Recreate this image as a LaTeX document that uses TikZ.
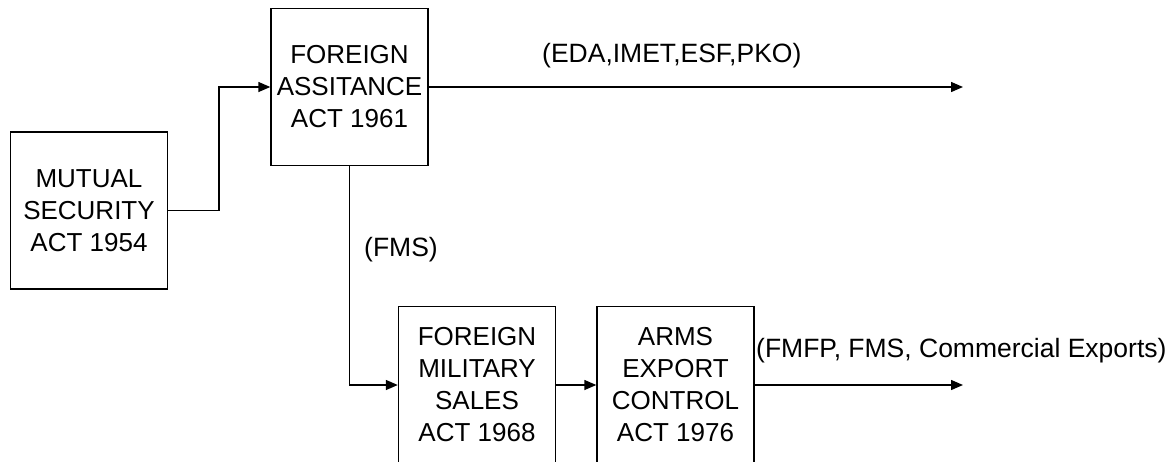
\documentclass[tikz,border=0pt]{standalone}
\usepackage{fontspec}
\setmainfont{Liberation Sans}
\usetikzlibrary{arrows.meta}
\begin{document}
\begin{tikzpicture}[x=1pt,y=-1pt,
  box/.style={draw,line width=1.4pt,minimum width=157pt,minimum height=157pt,inner sep=0pt,align=center,font=\fontsize{26}{32}\selectfont},
  lbl/.style={inner sep=0pt,anchor=base west,font=\fontsize{26.5}{32}\selectfont},
  conn/.style={line width=1.4pt,-{Triangle[length=12pt,width=10pt]}}]
\useasboundingbox (0,0) rectangle (1175,461);
\node[box] (msa) at (89,210.5) {MUTUAL\\SECURITY\\ACT 1954};
\node[box] (faa) at (349.5,87) {FOREIGN\\ASSITANCE\\ACT 1961};
\node[box] (fms) at (477,385) {FOREIGN\\MILITARY\\SALES\\ACT 1968};
\node[box] (aec) at (675.5,385) {ARMS\\EXPORT\\CONTROL\\ACT 1976};
\coordinate (e1) at (963,87);
\coordinate (e2) at (963,385);
\draw[conn] (msa.east) -| (219,87) -- (faa.west);
\draw[conn] (faa.east) -- (e1);
\draw[conn] (faa.south) |- (fms.west);
\draw[conn] (fms.east) -- (aec.west);
\draw[conn] (aec.east) -- (e2);
\node[lbl] (l1) at (542,62) {(EDA,IMET,ESF,PKO)};
\node[lbl] (l2) at (364,256) {(FMS)};
\node[lbl] (l3) at (756,357) {(FMFP, FMS, Commercial Exports)};
\end{tikzpicture}
\end{document}
